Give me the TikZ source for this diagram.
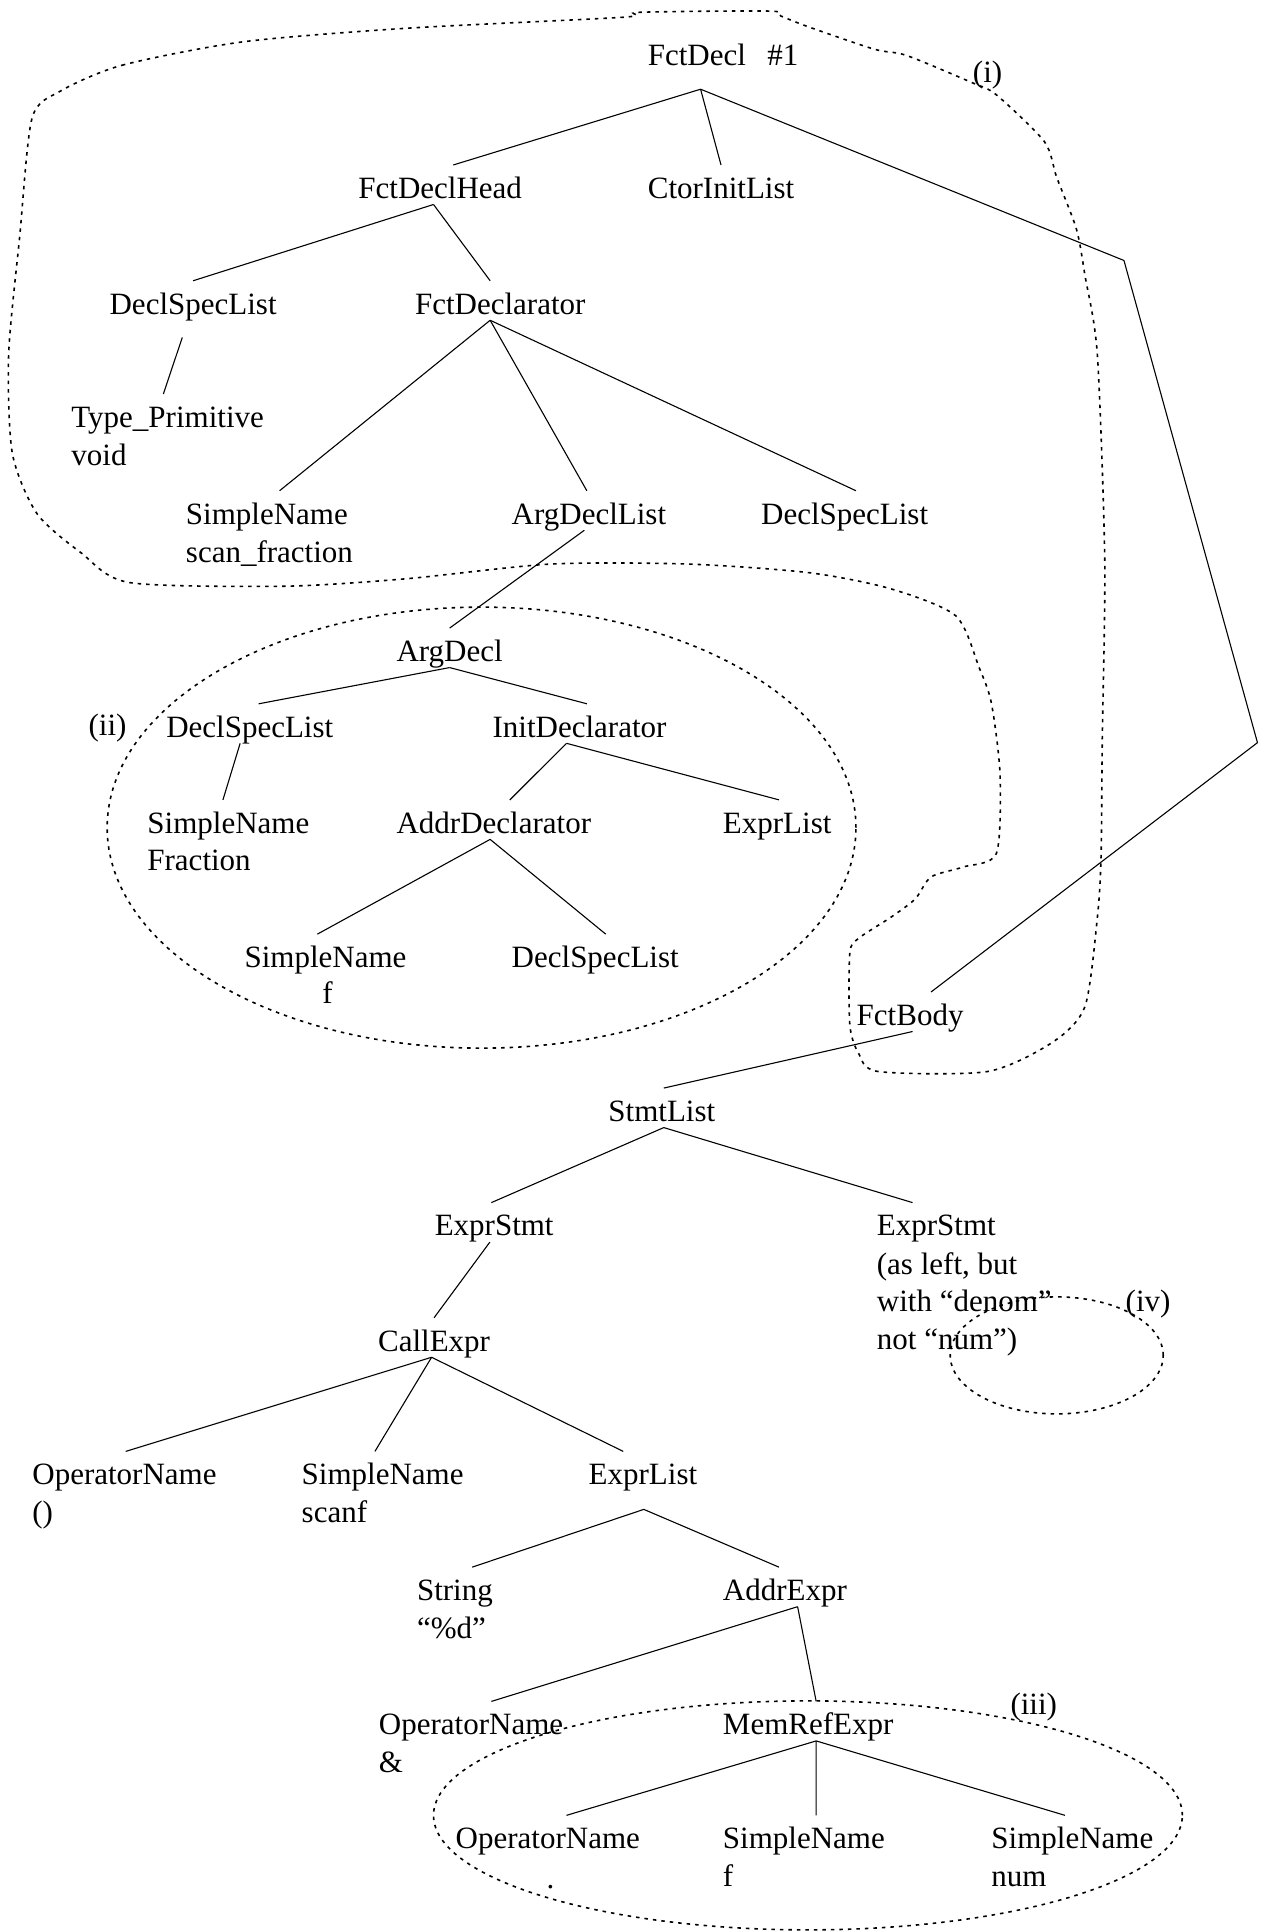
\documentclass[tikz,border=0pt]{standalone}
\usepackage{fontspec}
\setmainfont{Liberation Serif}
\usetikzlibrary{calc}
\newcommand\treefont{\fontsize{31pt}{38pt}\selectfont}
\tikzset{
  lbl/.style={anchor=base west, inner sep=0pt, outer sep=0pt,
              text height=33.3pt, text depth=6.2pt, font=\treefont},
  sub/.style={anchor=base west, inner sep=0pt, outer sep=0pt, font=\treefont},
  edge/.style={line width=1.1pt},
  hull/.style={line width=1.6pt, dash pattern=on 3.5pt off 5pt},
}
\begin{document}
\begin{tikzpicture}[x=1.2316pt, y=-1.2316pt]
\useasboundingbox (0,0) rectangle (1032,1568.7);

% ---- function declaration part
\node[lbl] (fd)    at (526,53)    {FctDecl};
\node[sub] (fdnum) at (623,53)    {\#1};
\node[sub] (lbli)  at (790,67)    {(i)};
\node[lbl] (fdh)   at (291,161)   {FctDeclHead};
\node[lbl] (cil)   at (526,161)   {CtorInitList};
\node[lbl] (dsla)  at (89,255)    {DeclSpecList};
\node[lbl] (fdr)   at (337,255)   {FctDeclarator};
\node[lbl] (tp)    at (58,347)    {Type\_Primitive};
\node[sub] (tpv)   at (58,378)    {void};
\node[lbl] (sna)   at (151,425.5) {SimpleName};
\node[sub] (snav)  at (151,456.5) {scan\_fraction};
\node[lbl] (adl)   at (415.5,425.5) {ArgDeclList};
\node[lbl] (dslb)  at (618,425.5) {DeclSpecList};

% ---- argument declaration
\node[lbl] (ad)    at (322,537)   {ArgDecl};
\node[sub] (lblii) at (72,597)    {(ii)};
\node[lbl] (dslc)  at (135,598.5) {DeclSpecList};
\node[lbl] (idr)   at (400,598.5) {InitDeclarator};
\node[lbl] (snb)   at (119.7,676.5) {SimpleName};
\node[sub] (snbv)  at (119.7,706.5) {Fraction};
\node[lbl] (addr)  at (322,676.5) {AddrDeclarator};
\node[lbl] (ela)   at (587,676.5) {ExprList};
\node[lbl] (snc)   at (198.6,785.5) {SimpleName};
\node[sub, anchor=base] (sncv) at (266,815) {f};
\node[lbl] (dsld)  at (415.5,785.5) {DeclSpecList};

% ---- function body
\node[lbl] (fb)    at (695.6,832.5) {FctBody};
\node[lbl] (sl)    at (494,910.5)  {StmtList};
\node[lbl] (esa)   at (353,1003.5) {ExprStmt};
\node[lbl] (esb)   at (712,1003.5) {ExprStmt};
\node[sub] (esbx)  at (712,1034.5) {(as left, but};
\node[sub] (esby)  at (712,1064.5) {with “denom”};
\node[sub] (esbz)  at (712,1095.5) {not “num”)};
\node[sub] (lbliv) at (914,1065)   {(iv)};
\node[lbl] (ce)    at (307,1097)   {CallExpr};
\node[lbl] (ona)   at (26.3,1205.5) {OperatorName};
\node[sub] (onav)  at (26.3,1236)  {()};
\node[lbl] (snd)   at (245,1205.5) {SimpleName};
\node[sub] (sndv)  at (245,1236)   {scanf};
\node[lbl] (elb)   at (478,1205.5) {ExprList};
\node[lbl] (str)   at (338.6,1299.5) {String};
\node[sub] (strv)  at (338.6,1330) {“\%d”};
\node[lbl] (ae)    at (587,1299.5) {AddrExpr};
\node[lbl] (onb)   at (307.7,1408.5) {OperatorName};
\node[sub] (onbv)  at (307.7,1439.5) {\&};
\node[lbl] (mre)   at (587,1408.5) {MemRefExpr};
\node[sub] (lbliii) at (820.5,1392) {(iii)};
\node[lbl] (onc)   at (370,1501)   {OperatorName};
\node[sub, anchor=base] (oncv) at (447,1533) {.};
\node[lbl] (sne)   at (587,1501)   {SimpleName};
\node[sub] (snev)  at (587,1532)   {f};
\node[lbl] (snf)   at (805,1501)   {SimpleName};
\node[sub] (snfv)  at (805,1532)   {num};

% ---- tree edges
\draw[edge] ($(fd.south)+(3,14.4)$) -- ($(fdh.north)+(10.6,0)$);
\draw[edge] ($(fd.south)+(3,14.4)$) -- (cil.north);
\draw[edge] ($(fd.south)+(3,14.4)$) -- (912.6,211.5) -- (1021,603) -- ($(fb.north)+(17,0)$);
\draw[edge] ($(fdh.south)+(-5.4,0)$) -- (dsla.north);
\draw[edge] ($(fdh.south)+(-5.4,0)$) -- ($(fdr.north)+(-8.2,0)$);
\draw[edge] ($(dsla.south)+(-8.8,14)$) -- ($(tp.north)+(-3.5,0)$);
\draw[edge] ($(fdr.south)+(-8.2,0)$) -- ($(sna.north)+(10.3,0)$);
\draw[edge] ($(fdr.south)+(-8.2,0)$) -- ($(adl.north)+(-1.7,0)$);
\draw[edge] ($(fdr.south)+(-8.2,0)$) -- ($(dslb.north)+(9.2,0)$);
\draw[edge] ($(adl.south)+(-3.7,0)$) -- (ad.north);
\draw[edge] (ad.south) -- ($(dslc.north)+(7.2,0)$);
\draw[edge] (ad.south) -- ($(idr.north)+(6,0)$);
\draw[edge] ($(dslc.south)+(-7.8,0)$) -- ($(snb.north)+(-4.4,0)$);
\draw[edge] ($(idr.south)+(-10.6,0)$) -- ($(addr.north)+(13,0)$);
\draw[edge] ($(idr.south)+(-10.6,0)$) -- ($(ela.north)+(1.5,0)$);
\draw[edge] ($(addr.south)+(-3,0)$) -- ($(snc.north)+(-6.6,0)$);
\draw[edge] ($(addr.south)+(-3,0)$) -- ($(dsld.north)+(8.5,0)$);
\draw[edge] ($(fb.south)+(2,0)$) -- ($(sl.north)+(1.6,0)$);
\draw[edge] ($(sl.south)+(1.6,0)$) -- ($(esa.north)+(-2.3,0)$);
\draw[edge] ($(sl.south)+(1.6,0)$) -- ($(esb.north)+(-19.3,0)$);
\draw[edge] ($(esa.south)+(-3.5,0)$) -- (ce.north);
\draw[edge] ($(ce.south)+(-2,0)$) -- ($(ona.north)+(1,0)$);
\draw[edge] ($(ce.south)+(-2,0)$) -- ($(snd.north)+(-6.3,0)$);
\draw[edge] ($(ce.south)+(-2,0)$) -- ($(elb.north)+(-16,0)$);
\draw[edge] ($(elb.south)+(0.7,15)$) -- ($(str.north)+(14,0)$);
\draw[edge] ($(elb.south)+(0.7,15)$) -- ($(ae.north)+(-4.8,0)$);
\draw[edge] ($(ae.south)+(10.3,0)$) -- ($(onb.north)+(16.5,0)$);
\draw[edge] ($(ae.south)+(10.3,0)$) -- ($(mre.north)+(6.5,0)$);
\draw[edge] ($(mre.south)+(6.5,0)$) -- ($(onc.north)+(15.2,0)$);
\draw[edge] ($(mre.south)+(6.5,0)$) -- ($(sne.north)+(10,0)$);
\draw[edge] ($(mre.south)+(6.5,0)$) -- ($(snf.north)+(-6,0)$);

% ---- outlined groups
\draw[hull] plot[smooth cycle, tension=0.45] coordinates {
  (49,74) (99,53) (197,34) (329,23) (506,14) (519,10) (625,9) (634,13)
  (657,22) (710,40) (736,45) (789,67) (809,77) (848,115) (858,144)
  (874,186) (881,224) (891,288) (897,455) (895,600) (894,696) (891,745)
  (881,817) (855,846) (802,870) (713,870) (697,855) (690,832) (690,774)
  (697,762) (723,745) (743,730) (756,712) (782,704) (809,693) (812,629)
  (805,571) (795,542) (776,500) (723,478) (657,465) (559,458) (447,458)
  (329,470) (230,476) (105,473) (66,449) (30,417) (10,368) (7,288)
  (16,192) (26,96)};
\draw[hull] (391,672) ellipse [x radius=374.4pt, y radius=220.5pt];
\draw[hull] (656,1474) ellipse [x radius=374.4pt, y radius=114.5pt];
\draw[hull] (858,1100.5) ellipse [x radius=106.5pt, y radius=58.5pt];
\end{tikzpicture}
\end{document}
